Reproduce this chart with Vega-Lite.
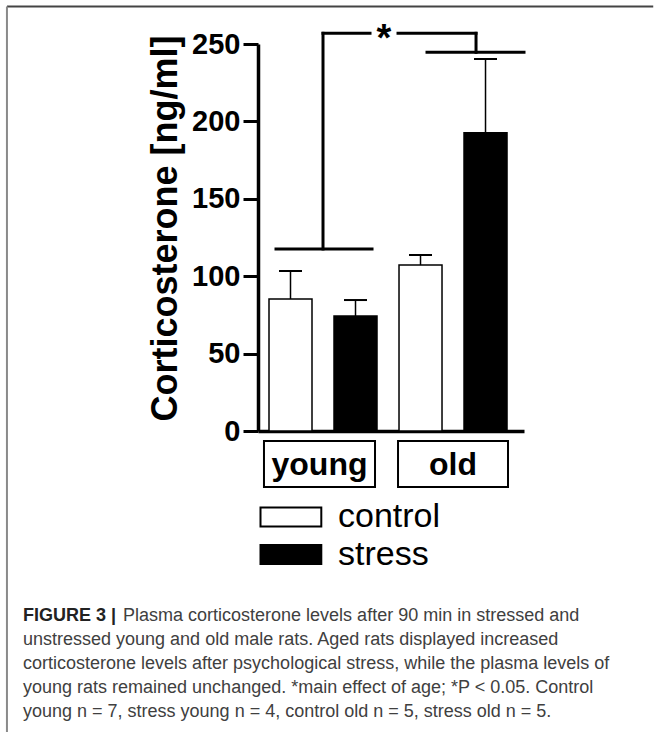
{
  "$schema": "https://vega.github.io/schema/vega-lite/v6.json",
  "width": 266,
  "height": 387,
  "autosize": {"type": "none"},
  "padding": {"left": 258, "top": 44, "right": 130, "bottom": 301},
  "background": "white",
  "config": {
    "view": {"stroke": null},
    "font": "Liberation Sans",
    "legend": {
      "orient": "none",
      "legendX": -5,
      "legendY": 456,
      "padding": 0,
      "symbolType": "M-1,-1H5.4V1H-1Z",
      "symbolSize": 361,
      "symbolStrokeColor": "black",
      "symbolStrokeWidth": 2,
      "labelFont": "Liberation Sans",
      "labelFontSize": 34,
      "labelColor": "black",
      "labelOffset": 51,
      "rowPadding": 3.5
    }
  },
  "title": {
    "text": "FIGURE 3 |",
    "subtitle": [
      "\u200b\u00a0\u00a0\u00a0\u00a0\u00a0\u00a0\u00a0\u00a0\u00a0\u00a0\u00a0\u00a0\u00a0\u00a0\u00a0\u00a0\u00a0\u00a0\u00a0\u00a0Plasma corticosterone levels after 90 min in stressed and",
      "unstressed young and old male rats. Aged rats displayed increased",
      "corticosterone levels after psychological stress, while the plasma levels of",
      "young rats remained unchanged. *main effect of age; *P < 0.05. Control",
      "young n = 7, stress young n = 4, control old n = 5, stress old n = 5."
    ],
    "orient": "bottom",
    "anchor": "start",
    "frame": "group",
    "offset": 0,
    "dx": -235,
    "dy": -126,
    "font": "Liberation Sans",
    "fontSize": 18,
    "fontWeight": "bold",
    "color": "#222222",
    "subtitleFont": "Liberation Sans",
    "subtitleFontSize": 18,
    "subtitleColor": "#404040",
    "subtitleLineHeight": 24,
    "subtitlePadding": -18
  },
  "datasets": {
    "bars": [
      {"age": "young", "condition": "control", "slot": 1, "mean": 85.3, "upper": 103.4},
      {"age": "young", "condition": "stress", "slot": 2, "mean": 74.3, "upper": 84.6},
      {"age": "old", "condition": "control", "slot": 3, "mean": 107.2, "upper": 113.7},
      {"age": "old", "condition": "stress", "slot": 4, "mean": 192.7, "upper": 240.3}
    ],
    "brackets": [
      {"x": 0.777, "x2": 2.254, "y": 117.6, "y2": 117.6},
      {"x": 1.5, "x2": 1.5, "y": 117.6, "y2": 256.9},
      {"x": 1.5, "x2": 2.223, "y": 256.9, "y2": 256.9},
      {"x": 2.654, "x2": 3.854, "y": 256.9, "y2": 256.9},
      {"x": 3.854, "x2": 3.854, "y": 256.9, "y2": 244.6},
      {"x": 3.1, "x2": 4.592, "y": 244.6, "y2": 244.6}
    ],
    "groups": [
      {"age": "young", "x": 0.592, "x2": 2.3, "y": -6.5, "y2": -36.2, "xc": 1.446, "yb": -28.4},
      {"age": "old", "x": 2.654, "x2": 4.346, "y": -6.5, "y2": -36.2, "xc": 3.5, "yb": -28.4}
    ],
    "frame": [{"x": -3.362, "xr": 6.58, "ytop": 274.2, "ybottom": -194.4}]
  },
  "layer": [
    {
      "data": {"name": "frame"},
      "mark": {"type": "rule", "color": "#444444", "strokeWidth": 2},
      "encoding": {
        "x": {"field": "x", "type": "quantitative"},
        "x2": {"field": "xr"},
        "y": {"field": "ytop", "type": "quantitative"}
      }
    },
    {
      "data": {"name": "frame"},
      "mark": {"type": "rule", "color": "#8a8a8a", "strokeWidth": 2},
      "encoding": {
        "x": {"field": "x", "type": "quantitative"},
        "y": {"field": "ytop", "type": "quantitative"},
        "y2": {"field": "ybottom"}
      }
    },
    {
      "data": {"name": "bars"},
      "mark": {"type": "bar", "orient": "vertical", "width": 43, "stroke": "black", "strokeWidth": 1.5},
      "encoding": {
        "x": {
          "field": "slot", "type": "quantitative",
          "scale": {"domain": [0.5, 4.592], "nice": false, "zero": false, "padding": 0},
          "axis": {"labels": false, "ticks": false, "grid": false, "title": null, "domainColor": "black", "domainWidth": 3.5}
        },
        "y": {
          "field": "mean", "type": "quantitative",
          "scale": {"domain": [0, 250], "nice": false, "padding": 0},
          "axis": {
            "values": [0, 50, 100, 150, 200, 250],
            "grid": false,
            "domainColor": "black", "domainWidth": 3.5,
            "tickColor": "black", "tickWidth": 3, "tickSize": 15,
            "labelPadding": 3,
            "labelFont": "Liberation Sans",
            "labelFontWeight": "bold", "labelFontSize": 29, "labelColor": "black",
            "title": "Corticosterone [ng/ml]",
            "titleFont": "Liberation Sans", "titleFontWeight": "bold", "titleFontSize": 36, "titleColor": "black",
            "titlePadding": 7,
            "titleY": 184
          }
        },
        "fill": {
          "field": "condition", "type": "nominal",
          "scale": {"domain": ["control", "stress"], "range": ["white", "black"]},
          "legend": {"title": null}
        }
      }
    },
    {
      "data": {"name": "bars"},
      "mark": {"type": "rule", "color": "black", "strokeWidth": 1.5},
      "encoding": {
        "x": {"field": "slot", "type": "quantitative"},
        "y": {"field": "mean", "type": "quantitative"},
        "y2": {"field": "upper"}
      }
    },
    {
      "data": {"name": "bars"},
      "mark": {"type": "tick", "orient": "horizontal", "size": 23, "thickness": 2, "color": "black", "opacity": 1},
      "encoding": {
        "x": {"field": "slot", "type": "quantitative"},
        "y": {"field": "upper", "type": "quantitative"}
      }
    },
    {
      "data": {"name": "brackets"},
      "mark": {"type": "rule", "color": "black", "strokeWidth": 3, "strokeCap": "square"},
      "encoding": {
        "x": {"field": "x", "type": "quantitative"},
        "x2": {"field": "x2"},
        "y": {"field": "y", "type": "quantitative"},
        "y2": {"field": "y2"}
      }
    },
    {
      "data": {"values": [{"label": "*", "x": 2.438, "y": 245.2}]},
      "mark": {"type": "text", "font": "Liberation Sans", "fontSize": 38, "fontWeight": "bold", "color": "black", "baseline": "alphabetic", "align": "center"},
      "encoding": {
        "x": {"field": "x", "type": "quantitative"},
        "y": {"field": "y", "type": "quantitative"},
        "text": {"field": "label"}
      }
    },
    {
      "data": {"name": "groups"},
      "mark": {"type": "rect", "fill": "white", "stroke": "black", "strokeWidth": 2},
      "encoding": {
        "x": {"field": "x", "type": "quantitative"},
        "x2": {"field": "x2"},
        "y": {"field": "y", "type": "quantitative"},
        "y2": {"field": "y2"}
      }
    },
    {
      "data": {"name": "groups"},
      "mark": {"type": "text", "font": "Liberation Sans", "fontSize": 32, "fontWeight": "bold", "color": "black", "baseline": "alphabetic", "align": "center"},
      "encoding": {
        "x": {"field": "xc", "type": "quantitative"},
        "y": {"field": "yb", "type": "quantitative"},
        "text": {"field": "age"}
      }
    }
  ]
}
